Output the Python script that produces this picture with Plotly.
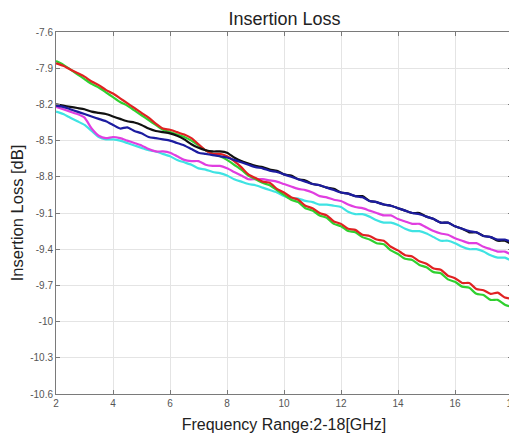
import plotly.graph_objects as go

freq = [2 + 0.25 * i for i in range(65)]

red = [-7.86, -7.88, -7.91, -7.94, -7.97, -8.01, -8.04, -8.08, -8.11, -8.15, -8.19, -8.23, -8.27, -8.31, -8.36, -8.40,
       -8.41, -8.43, -8.45, -8.48, -8.53, -8.58, -8.61, -8.61, -8.63, -8.67, -8.72, -8.78, -8.81, -8.84, -8.85, -8.90,
       -8.93, -8.97, -8.99, -9.04, -9.06, -9.10, -9.12, -9.17, -9.19, -9.23, -9.24, -9.28, -9.29, -9.32, -9.33, -9.38,
       -9.41, -9.45, -9.46, -9.50, -9.52, -9.56, -9.57, -9.62, -9.64, -9.68, -9.68, -9.73, -9.74, -9.77, -9.76, -9.80,
       -9.81]
green = [-7.84, -7.87, -7.91, -7.95, -7.99, -8.03, -8.06, -8.10, -8.14, -8.18, -8.21, -8.25, -8.29, -8.33, -8.37, -8.41,
         -8.43, -8.45, -8.47, -8.50, -8.54, -8.58, -8.61, -8.63, -8.66, -8.70, -8.74, -8.79, -8.82, -8.85, -8.87, -8.91,
         -8.95, -8.99, -9.01, -9.06, -9.08, -9.12, -9.14, -9.19, -9.21, -9.25, -9.26, -9.30, -9.32, -9.35, -9.36, -9.41,
         -9.44, -9.48, -9.49, -9.53, -9.55, -9.59, -9.60, -9.65, -9.67, -9.71, -9.72, -9.77, -9.78, -9.82, -9.82, -9.86,
         -9.88]
black = [-8.20, -8.21, -8.22, -8.23, -8.24, -8.26, -8.27, -8.28, -8.30, -8.32, -8.34, -8.35, -8.37, -8.40, -8.42, -8.43,
         -8.44, -8.46, -8.49, -8.53, -8.56, -8.58, -8.59, -8.59, -8.60, -8.64, -8.67, -8.69, -8.71, -8.72, -8.74, -8.75,
         -8.78, -8.79, -8.82, -8.83, -8.86, -8.87, -8.89, -8.90, -8.93, -8.94, -8.96, -8.96, -9.00, -9.01, -9.03, -9.04,
         -9.06, -9.08, -9.10, -9.10, -9.13, -9.15, -9.18, -9.18, -9.21, -9.23, -9.26, -9.26, -9.29, -9.30, -9.33, -9.33,
         -9.36]
blue = [-8.21, -8.22, -8.24, -8.26, -8.28, -8.30, -8.32, -8.34, -8.37, -8.40, -8.39, -8.42, -8.44, -8.47, -8.48, -8.49,
        -8.50, -8.52, -8.54, -8.57, -8.60, -8.61, -8.62, -8.63, -8.64, -8.66, -8.68, -8.70, -8.72, -8.73, -8.75, -8.76,
        -8.78, -8.80, -8.82, -8.84, -8.86, -8.87, -8.89, -8.91, -8.93, -8.94, -8.96, -8.97, -9.00, -9.01, -9.03, -9.04,
        -9.06, -9.08, -9.10, -9.11, -9.13, -9.15, -9.18, -9.18, -9.21, -9.23, -9.25, -9.26, -9.29, -9.30, -9.32, -9.32,
        -9.34]
magenta = [-8.22, -8.24, -8.26, -8.28, -8.31, -8.40, -8.46, -8.48, -8.47, -8.48, -8.50, -8.52, -8.54, -8.57, -8.59, -8.59,
           -8.60, -8.63, -8.66, -8.67, -8.67, -8.70, -8.71, -8.71, -8.73, -8.76, -8.79, -8.82, -8.82, -8.82, -8.83, -8.84,
           -8.86, -8.88, -8.90, -8.91, -8.93, -8.96, -8.97, -8.99, -9.00, -9.03, -9.05, -9.06, -9.08, -9.10, -9.12, -9.12,
           -9.15, -9.17, -9.19, -9.19, -9.22, -9.25, -9.27, -9.28, -9.31, -9.33, -9.35, -9.35, -9.38, -9.40, -9.42, -9.42,
           -9.45]
cyan = [-8.26, -8.28, -8.31, -8.34, -8.37, -8.42, -8.47, -8.49, -8.49, -8.50, -8.52, -8.54, -8.56, -8.58, -8.59, -8.61,
        -8.63, -8.66, -8.68, -8.70, -8.73, -8.74, -8.76, -8.77, -8.79, -8.82, -8.84, -8.86, -8.87, -8.89, -8.91, -8.93,
        -8.96, -8.98, -8.98, -9.00, -9.01, -9.03, -9.03, -9.04, -9.05, -9.09, -9.11, -9.11, -9.13, -9.16, -9.18, -9.18,
        -9.20, -9.23, -9.25, -9.25, -9.27, -9.30, -9.33, -9.33, -9.35, -9.38, -9.40, -9.40, -9.42, -9.45, -9.47, -9.47,
        -9.50]

x_ticks = [2, 4, 6, 8, 10, 12, 14, 16, 18]
y_ticks = [-7.6, -7.9, -8.2, -8.5, -8.8, -9.1, -9.4, -9.7, -10.0, -10.3, -10.6]
y_tick_labels = ["-7.6", "-7.9", "-8.2", "-8.5", "-8.8", "-9.1", "-9.4", "-9.7", "-10", "-10.3", "-10.6"]

series = [
    ("cyan", cyan, "#3fe3e3"),
    ("magenta", magenta, "#e03ee0"),
    ("green", green, "#2fd02f"),
    ("red", red, "#e02222"),
    ("black", black, "#111111"),
    ("blue", blue, "#1c1ca0"),
]

FONT = "Liberation Sans, Arial, sans-serif"

fig = go.Figure()
for name, ys, col in series:
    fig.add_trace(go.Scatter(x=freq, y=ys, mode="lines", name=name,
                             line=dict(color=col, width=2.2, shape="spline", smoothing=0.6)))

axis_common = dict(showline=True, linecolor="#7a7a7a", linewidth=1, mirror="ticks",
                   ticks="inside", ticklen=4, tickcolor="#7a7a7a",
                   showgrid=True, gridcolor="#e4e4e4", gridwidth=1, zeroline=False,
                   automargin=False,
                   tickfont=dict(family=FONT, size=10, color="#555555"))

fig.update_layout(
    width=517, height=437,
    margin=dict(l=48, r=13, t=24, b=51),
    paper_bgcolor="white", plot_bgcolor="white",
    showlegend=False,
    title=dict(text="Insertion Loss", x=0.535, xanchor="center", y=0.976, yanchor="middle",
               font=dict(family=FONT, size=18, color="#222222")),
    xaxis=dict(range=[2, 18], tickvals=x_ticks,
               title=dict(text="Frequency Range:2-18[GHz]", standoff=10,
                          font=dict(family=FONT, size=16, color="#222222")),
               **axis_common),
    yaxis=dict(range=[-10.6, -7.6], tickvals=y_ticks, ticktext=y_tick_labels,
               title=dict(text="Insertion Loss [dB]", standoff=3,
                          font=dict(family=FONT, size=16.5, color="#222222")),
               **axis_common),
)

fig.write_html("out.html")
